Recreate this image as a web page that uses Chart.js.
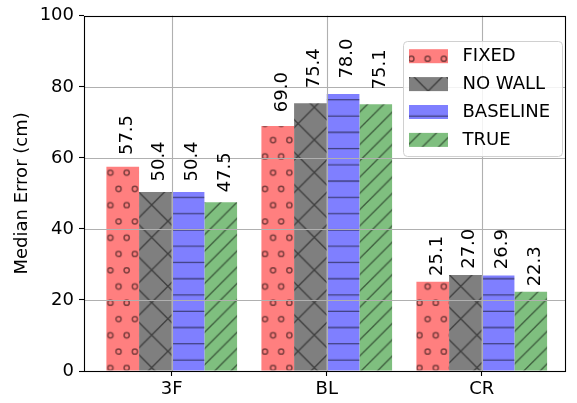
<!DOCTYPE html>
<html>
<head>
<meta charset="utf-8">
<script src="https://cdn.jsdelivr.net/npm/chart.js@4/dist/chart.umd.min.js"></script>
<style>
  html, body { margin: 0; padding: 0; background: #fff; }
  #wrap { width: 577px; height: 403px; }
</style>
</head>
<body>
<div id="wrap"><canvas id="c" width="577" height="403"></canvas></div>
<script>
// Median localisation error per site and method
const categories = ['3F', 'BL', 'CR'];
const seriesNames = ['FIXED', 'NO WALL', 'BASELINE', 'TRUE'];
const fixedVals = [57.5, 69.0, 25.1];
const noWallVals = [50.4, 75.4, 27.0];
const baselineVals = [50.4, 78.0, 26.9];
const trueVals = [47.5, 75.1, 22.3];
const yTickStep = 20;
const yMin = 0;
const yMax = 100;

const FONT = 'DejaVu Sans';
const HATCH = 'rgba(0,0,0,0.5)';
const UNIT = 100;          // hatch tile size before scaling
const HS = 0.976;          // tile scale on the canvas
const STEP = UNIT / 6;

// Build a repeating hatch fill: solid colour plus strokes, anchored to the canvas
function makeHatch(fill, draw, ox, oy) {
  const tile = document.createElement('canvas');
  tile.width = UNIT; tile.height = UNIT;
  const t = tile.getContext('2d');
  t.fillStyle = fill;
  t.fillRect(0, 0, UNIT, UNIT);
  t.strokeStyle = HATCH;
  t.lineWidth = 1.35 / HS;
  draw(t);
  const p = document.getElementById('c').getContext('2d').createPattern(tile, 'repeat');
  p.setTransform(new DOMMatrix([HS, 0, 0, HS, ox, oy]));
  return p;
}

const circles = t => {
  const r = 2.6 / HS;
  t.lineWidth = 1.5 / HS;
  for (let k = 0; k < 6; k++) {
    const y = (k + 0.5) * STEP;
    const xs = [];
    if (k % 2 === 0) { for (let m = 0; m < 6; m++) xs.push((m + 0.5) * STEP); }
    else { for (let m = 0; m <= 6; m++) xs.push(m * STEP); }
    xs.forEach(x => { t.beginPath(); t.arc(x, y, r, 0, Math.PI * 2); t.stroke(); });
  }
};
const crosses = t => {
  const d = UNIT / 3;
  t.beginPath();
  for (let c = -UNIT; c <= 2 * UNIT; c += d) {
    t.moveTo(-10, -10 + c); t.lineTo(UNIT + 10, UNIT + 10 + c);
    t.moveTo(-10, c + 10); t.lineTo(UNIT + 10, c - UNIT - 10);
  }
  t.stroke();
};
const hlines = t => {
  t.beginPath();
  for (let k = 0; k < 6; k++) { const y = (k + 0.5) * STEP; t.moveTo(0, y); t.lineTo(UNIT, y); }
  t.stroke();
};
const diagonals = t => {
  t.beginPath();
  for (let c = 0; c <= 2 * UNIT; c += STEP) { t.moveTo(-10, c + 10); t.lineTo(c + 10, -10); }
  t.stroke();
};

const fills = [
  makeHatch('#ff7f7f', circles, 12.8, 18.1),
  makeHatch('#7f7f7f', crosses, 21.5, 9.7),
  makeHatch('#7f7fff', hlines, 0, 10.3),
  makeHatch('#7fbf7f', diagonals, 0, 0)
];

const seriesVals = [fixedVals, noWallVals, baselineVals, trueVals];
const datasets = seriesNames.map((name, i) => ({
  label: name,
  data: seriesVals[i].map((v, j) => ({ x: j, y: v })),
  backgroundColor: fills[i],
  borderWidth: 0
}));

// Grid, frame, value labels and legend drawn over the bars
const overlay = {
  id: 'overlay',
  afterDatasetsDraw(chart) {
    const { ctx, chartArea: a, scales: { x, y } } = chart;
    ctx.save();
    ctx.strokeStyle = '#b0b0b0';
    ctx.lineWidth = 1.1;
    ctx.beginPath();
    for (let v = yMin + yTickStep; v < yMax; v += yTickStep) {
      const py = Math.round(y.getPixelForValue(v)) + 0.5;
      ctx.moveTo(a.left, py); ctx.lineTo(a.right, py);
    }
    categories.forEach((_, i) => {
      const px = Math.round(x.getPixelForValue(i)) + 0.5;
      ctx.moveTo(px, a.top); ctx.lineTo(px, a.bottom);
    });
    ctx.stroke();

    ctx.strokeStyle = '#000';
    ctx.lineWidth = 1.1;
    ctx.strokeRect(Math.round(a.left) + 0.5, Math.round(a.top) + 0.5,
                   Math.round(a.right - a.left), Math.round(a.bottom - a.top));

    // rotated value labels
    ctx.fillStyle = '#000';
    ctx.font = '18px "' + FONT + '"';
    ctx.textAlign = 'left';
    ctx.textBaseline = 'middle';
    chart.data.datasets.forEach((ds, i) => {
      chart.getDatasetMeta(i).data.forEach((bar, j) => {
        const v = ds.data[j].y;
        const py = y.getPixelForValue(v * 1.05) - 1.5;
        ctx.save();
        ctx.translate(bar.x + 4.4, py);
        ctx.rotate(-Math.PI / 2);
        ctx.fillText(v.toFixed(1), 0, 0);
        ctx.restore();
      });
    });

    // legend box
    const L = { x: 403, y: 41, w: 159, h: 115, r: 4 };
    ctx.beginPath();
    ctx.roundRect(L.x + 0.5, L.y + 0.5, L.w, L.h, L.r);
    ctx.fillStyle = 'rgba(255,255,255,0.85)';
    ctx.fill();
    ctx.strokeStyle = '#d0d0d0';
    ctx.lineWidth = 1;
    ctx.stroke();
    chart.data.datasets.forEach((ds, i) => {
      const cy = 56.2 + i * 27.9;
      ctx.fillStyle = ds.backgroundColor;
      ctx.fillRect(409, cy - 7, 39, 14);
      ctx.fillStyle = '#000';
      ctx.textAlign = 'left';
      ctx.textBaseline = 'middle';
      ctx.fillText(ds.label, 462.5, cy);
    });
    ctx.restore();
  }
};

new Chart(document.getElementById('c'), {
  type: 'bar',
  data: { datasets },
  plugins: [overlay],
  options: {
    responsive: false,
    animation: false,
    devicePixelRatio: 1,
    layout: { padding: { top: 11, right: 12, left: 0, bottom: 0 } },
    datasets: { bar: { categoryPercentage: 0.843, barPercentage: 1.0, grouped: true } },
    plugins: { legend: { display: false }, tooltip: { enabled: false } },
    scales: {
      x: {
        type: 'linear',
        offset: false,
        min: -0.566,
        max: 2.537,
        afterBuildTicks: s => { s.ticks = categories.map((_, i) => ({ value: i })); },
        afterFit: s => { s.height = 32; },
        ticks: {
          callback: v => categories[v],
          color: '#000',
          font: { family: FONT, size: 18 },
          padding: 3,
          maxRotation: 0,
          autoSkip: false
        },
        grid: { offset: false, drawOnChartArea: false, drawTicks: true, tickLength: 5, tickColor: '#000', tickWidth: 1.1 },
        border: { display: false }
      },
      y: {
        min: yMin,
        max: yMax,
        afterFit: s => { s.width = 84; },
        ticks: {
          stepSize: yTickStep,
          color: '#000',
          font: { family: FONT, size: 18 },
          padding: 5
        },
        grid: { drawOnChartArea: false, drawTicks: true, tickLength: 5, tickColor: '#000', tickWidth: 1.1 },
        border: { display: false },
        title: {
          display: true,
          text: 'Median Error (cm)',
          color: '#000',
          font: { family: FONT, size: 18 },
          padding: { top: 12, bottom: 0 }
        }
      }
    }
  }
});
</script>
</body>
</html>
